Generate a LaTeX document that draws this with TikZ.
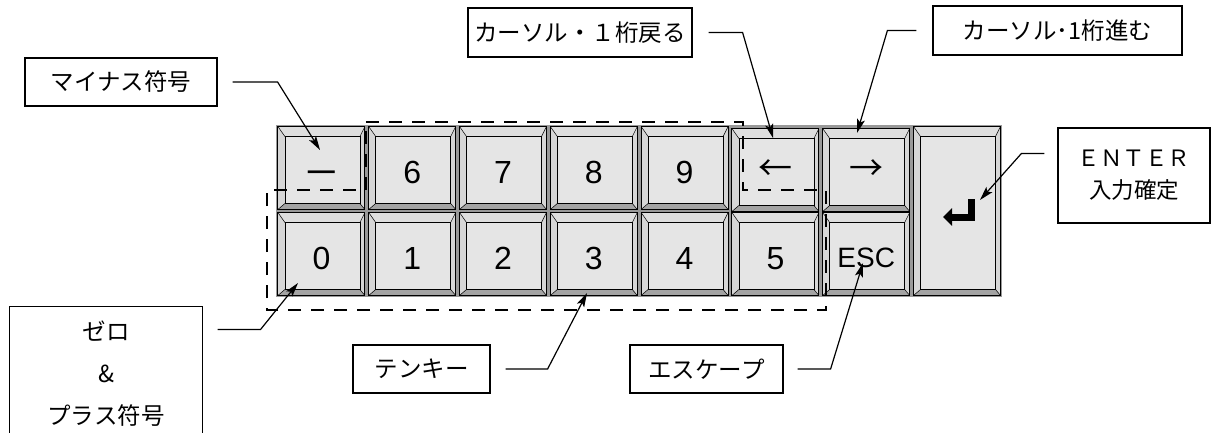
\documentclass[tikz,border=0pt]{standalone}
\usepackage{fontspec}
\newfontfamily\jpf{Noto Sans CJK JP}
\newfontfamily\keyf{Liberation Sans}
\usetikzlibrary{arrows.meta}
\definecolor{keyface}{gray}{0.90}
\definecolor{keyrim}{gray}{0.84}
\definecolor{keytop}{gray}{0.87}
\definecolor{keybev}{gray}{0.64}
\definecolor{keygap}{gray}{0.60}
\tikzset{
  keycap/.style={draw=black, line width=0.9pt, fill=keyrim, minimum width=87pt,
    minimum height=83pt, inner sep=0pt,
    path picture={
      \coordinate (kSW) at (path picture bounding box.south west);
      \coordinate (kNE) at (path picture bounding box.north east);
      \coordinate (kSE) at (path picture bounding box.south east);
      \coordinate (kNW) at (path picture bounding box.north west);
      \coordinate (fSW) at ([shift={(7pt,6pt)}]kSW);
      \coordinate (fNE) at ([shift={(-5pt,-10pt)}]kNE);
      \coordinate (fSE) at (fNE |- fSW);
      \coordinate (fNW) at (fSW |- fNE);
      \fill[keybev] (kSW) -- (kSE) -- (fSE) -- (fSW) -- cycle;
      \fill[keytop] (kNW) -- (kNE) -- (fNE) -- (fNW) -- cycle;
      \draw[line width=0.7pt, fill=keyface] (fSW) rectangle (fNE);
      \draw[line width=0.5pt] (kSW) -- (fSW) (kSE) -- (fSE) (kNE) -- (fNE) (kNW) -- (fNW);
    }},
  keynum/.style={keycap, font=\keyf\fontsize{32}{32}\selectfont, text height=31pt},
  keyarrow/.style={keycap, font=\jpf\fontsize{34}{34}\selectfont},
  lab/.style={draw=black, line width=1.2pt, font=\jpf\fontsize{23.5}{28}\selectfont,
    inner sep=0pt, align=center},
  conn/.style={line width=1.2pt, -{Stealth[length=14pt,width=8pt,inset=3pt]}},
  tenkeyline/.style={line width=1.3pt, dash pattern=on 13pt off 10pt},
}
\begin{document}
\begin{tikzpicture}[x=1pt,y=-1pt]
\useasboundingbox[fill=white] (0,0) rectangle (1215,433);

% keyboard base
\fill[keygap] (276,125) rectangle (1002.4,297);

% row 1
\node[keynum, font=\keyf\bfseries\fontsize{27}{27}\selectfont, text height=22pt] (kMinus) at (321.4,168) {—};
\node[keynum] (k6) at (412.2,168) {6};
\node[keynum] (k7) at (503.0,168) {7};
\node[keynum] (k8) at (593.8,168) {8};
\node[keynum] (k9) at (684.6,168) {9};
\node[keyarrow] (kLeft) at (775.4,170) {←};
\node[keyarrow] (kRight) at (866.2,170) {→};
\node[keycap, minimum height=169pt] (kEnt) at (957.0,211) {};
% row 2
\node[keynum] (k0) at (321.4,254) {0};
\node[keynum] (k1) at (412.2,254) {1};
\node[keynum] (k2) at (503.0,254) {2};
\node[keynum] (k3) at (593.8,254) {3};
\node[keynum] (k4) at (684.6,254) {4};
\node[keynum] (k5) at (775.4,254) {5};
\node[keynum, font=\keyf\fontsize{28}{28}\selectfont, text height=27pt] (kEsc) at (866.2,254) {ESC};

% enter glyph
\draw[line width=7pt, line join=miter, -{Triangle[length=9pt,width=17pt]}]
  (971.5,199) -- (971.5,217) -- (943,217);

% ten-key dashed outline
\draw[tenkeyline] (366,122) -- (743,122) -- (743,190) -- (826,190) -- (826,310)
  -- (267,310) -- (267,190) -- (366,190) -- cycle;

% labels
\node[lab, minimum width=192pt, minimum height=48pt] (mlab) at (121,82) {マイナス符号};
\node[lab, minimum width=224pt, minimum height=49pt] (back) at (580,32.5) {カーソル・１桁戻る};
\node[lab, minimum width=249pt, minimum height=49pt] (fwd) at (1057.5,30.5) {カーソル･1桁進む};
\node[lab, minimum width=152pt, minimum height=95pt, font=\jpf\fontsize{22.5}{32}\selectfont] (entlab) at (1134,175.5) {ＥＮＴＥＲ\\入力確定};
\node[lab, draw=none, minimum width=192pt, minimum height=134pt, font=\jpf\fontsize{23.5}{42}\selectfont] (zero) at (106,374) {ゼロ\\\&\\プラス符号};
\draw[line width=1.2pt] (zero.south west) -- (zero.north west) -- (zero.north east) -- (zero.south east);
\node[lab, minimum width=137pt, minimum height=48pt] (tenlab) at (421.5,369) {テンキー};
\node[lab, minimum width=153pt, minimum height=48pt] (esclab) at (706.5,369) {エスケープ};

% arrow tips
\coordinate (tMinus) at (320,150);
\coordinate (tBack) at (773,138);
\coordinate (tFwd) at (857,133);
\coordinate (tEnt) at (980,200);
\coordinate (tZero) at (298,283);
\coordinate (tTen) at (587,293);
\coordinate (tEsc) at (863,263);

% connectors
\draw[conn] ([xshift=15pt]mlab.east) -- ++(45,0) -- (tMinus);
\draw[conn] ([xshift=16pt]back.east) -- ++(34,0) -- (tBack);
\draw[conn] ([xshift=-16pt]fwd.west) -- ++(-29,0) -- (tFwd);
\draw[conn] ([shift={(-13pt,22pt)}]entlab.west) -- ++(-23,0) -- (tEnt);
\draw[conn] ([shift={(15pt,-23pt)}]zero.north east) -- ++(43,0) -- (tZero);
\draw[conn] ([xshift=15pt]tenlab.east) -- ++(42,0) -- (tTen);
\draw[conn] ([xshift=14pt]esclab.east) -- ++(33,0) -- (tEsc);
\end{tikzpicture}
\end{document}
